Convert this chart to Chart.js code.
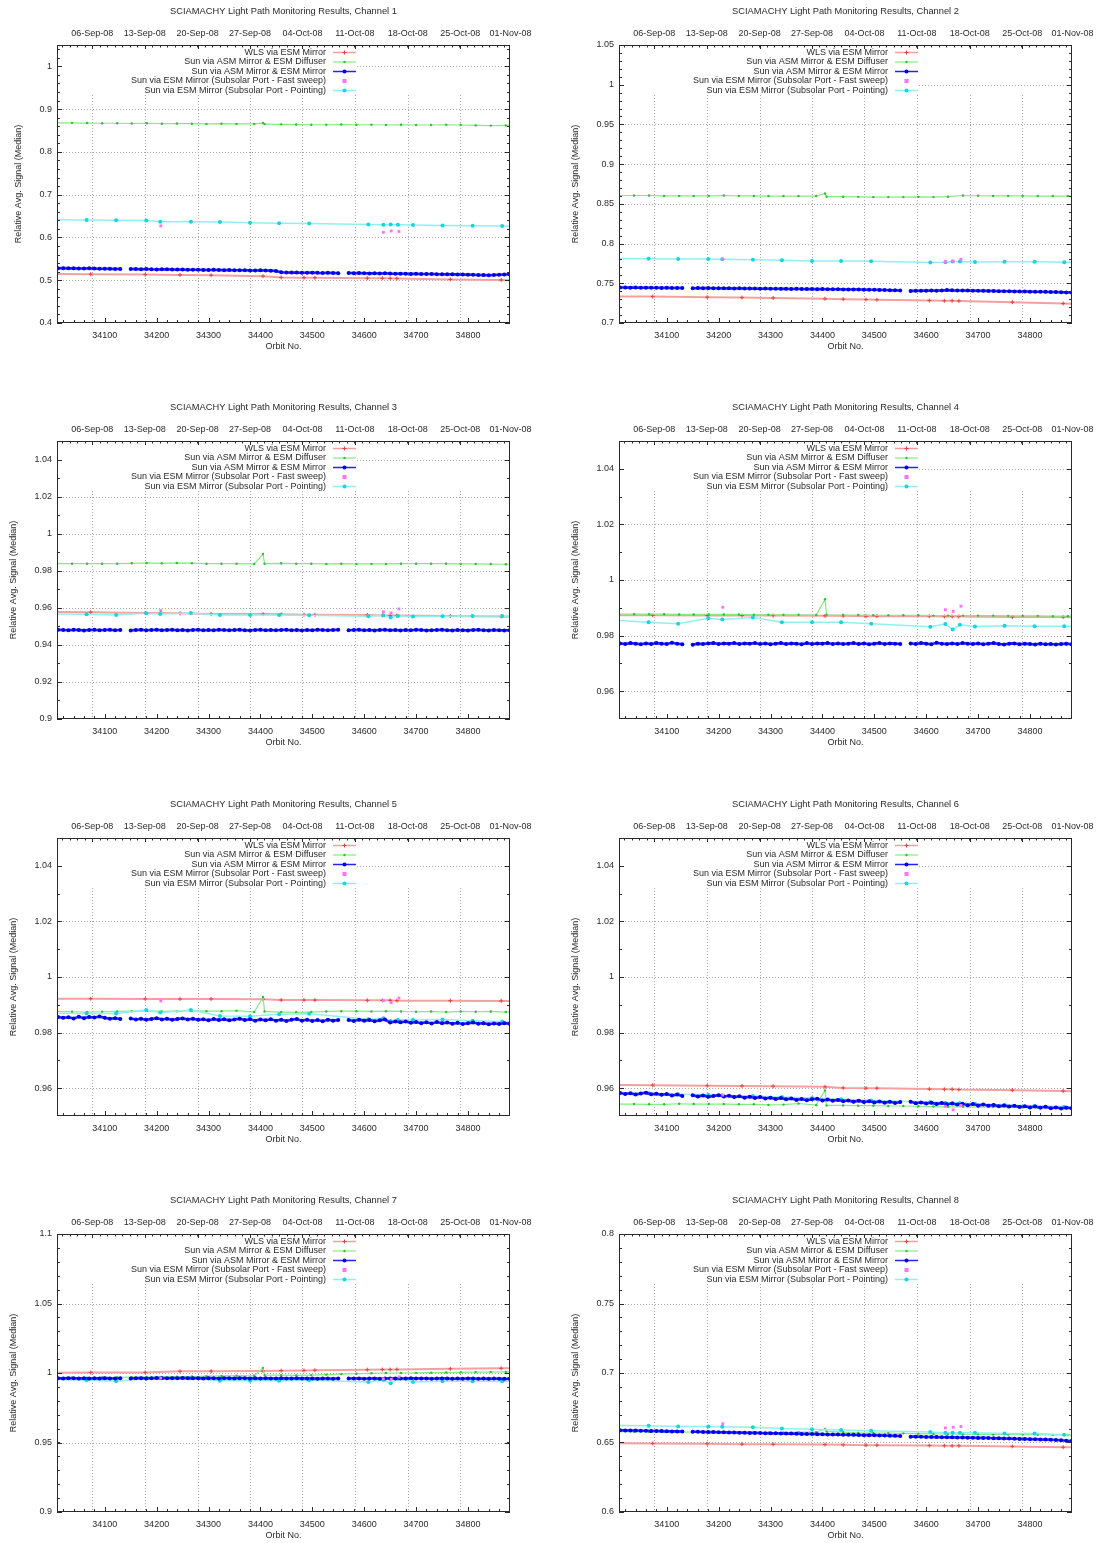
<!DOCTYPE html>
<html>
<head>
<meta charset="utf-8">
<title>SCIAMACHY Light Path Monitoring</title>
<script src="https://cdn.jsdelivr.net/npm/chart.js@4.4.1/dist/chart.umd.min.js"></script>
<style>
  html, body { margin: 0; padding: 0; background: #fff; overflow: hidden; }
  #page { position: relative; width: 1098px; height: 1543px; }
  .panel { position: absolute; width: 549px; height: 396px; }
</style>
</head>
<body>
<div id="page"></div>
<script>
// ---- shared orbit axes ----
const orbitMin = 34008;
const orbitMax = 34881;
const orbitTicks = [34100, 34200, 34300, 34400, 34500, 34600, 34700, 34800];
const weekOrbits = [34076, 34177, 34279, 34380, 34481, 34582, 34684, 34785, 34882];
const weekLabels = ['06-Sep-08', '13-Sep-08', '20-Sep-08', '27-Sep-08', '04-Oct-08', '11-Oct-08', '18-Oct-08', '25-Oct-08', '01-Nov-08'];

// orbits of each measurement type
const wlsOrbits = [34000, 34073, 34178, 34245, 34305, 34405, 34440, 34484, 34505, 34606, 34635, 34650, 34663, 34766, 34864, 34890];
const diffuserOrbits = [34008, 34037, 34066, 34095, 34124, 34152, 34181, 34210, 34239, 34268, 34296, 34325, 34354, 34388, 34405, 34408, 34440,
  34469, 34498, 34527, 34556, 34585, 34614, 34642, 34671, 34700, 34729, 34758, 34786, 34815, 34844, 34873, 34882];
const asmOrbits = [
  34010, 34020, 34030, 34040, 34050, 34060, 34070, 34080, 34090, 34100, 34110,
  34120, 34130, 34140, 34150, 34160, 34170, 34180, 34190, 34200, 34210, 34220,
  34230, 34240, 34250, 34260, 34270, 34280, 34290, 34300, 34310, 34320, 34330,
  34340, 34350, 34360, 34370, 34380, 34390, 34400, 34410, 34420, 34430, 34440,
  34450, 34460, 34470, 34480, 34490, 34500, 34510, 34520, 34530, 34540, 34550,
  34560, 34570, 34580, 34590, 34600, 34610, 34620, 34630, 34640, 34650, 34660,
  34670, 34680, 34690, 34700, 34710, 34720, 34730, 34740, 34750, 34760, 34770,
  34780, 34790, 34800, 34810, 34820, 34830, 34840, 34850, 34860, 34870, 34880
];
const sweepOrbits = [34208, 34637, 34652, 34667];
const pointingOrbits = [34000, 34065, 34122, 34180, 34207, 34266, 34322, 34380, 34436, 34494, 34608, 34637, 34651, 34665, 34694, 34751, 34809, 34866, 34890];

// ---- Channel 1 ----
const ch1Ticks = [0.4, 0.5, 0.6, 0.7, 0.8, 0.9, 1];
const ch1Wls = [0.5145, 0.5142, 0.5132, 0.5125, 0.5118, 0.5095, 0.5065, 0.5060, 0.5058, 0.5048, 0.5046, 0.5044, 0.5042, 0.5018, 0.5005, 0.5000];
const ch1Diffuser = [0.868, 0.868, 0.8675, 0.867, 0.867, 0.8665, 0.867, 0.866, 0.8665, 0.866, 0.8655, 0.866, 0.8655, 0.8655, 0.8675, 0.865, 0.8645,
  0.864, 0.8635, 0.8635, 0.864, 0.8635, 0.8635, 0.863, 0.8635, 0.863, 0.863, 0.8635, 0.863, 0.862, 0.8615, 0.862, 0.862];
const ch1Asm = [
  0.5280, 0.5282, 0.5278, 0.5280, 0.5276, 0.5274, 0.5278, 0.5272, 0.5268, 0.5270, 0.5266,
  0.5262, 0.5265, null, 0.5262, 0.5260, 0.5258, 0.5262, 0.5255, 0.5252, 0.5256, 0.5254,
  0.5250, 0.5248, 0.5251, 0.5246, 0.5244, 0.5246, 0.5242, 0.5240, 0.5243, 0.5238, 0.5236,
  0.5238, 0.5234, 0.5232, 0.5235, 0.5230, 0.5228, 0.5231, 0.5226, 0.5224, 0.5215, 0.5185,
  0.5180, 0.5178, 0.5181, 0.5176, 0.5174, 0.5177, 0.5172, 0.5170, 0.5173, 0.5168, 0.5166,
  null, 0.5168, 0.5165, 0.5167, 0.5162, 0.5160, 0.5163, 0.5158, 0.5162, 0.5155, 0.5152,
  0.5154, 0.5150, 0.5148, 0.5151, 0.5146, 0.5144, 0.5147, 0.5142, 0.5140, 0.5138, 0.5141,
  0.5136, 0.5134, 0.5131, 0.5128, 0.5124, 0.5120, 0.5118, 0.5122, 0.5128, 0.5134, 0.5138
];
const ch1Sweep = [0.627, 0.612, 0.615, 0.614];
const ch1Pointing = [0.6415, 0.641, 0.640, 0.6395, 0.637, 0.637, 0.636, 0.6345, 0.6335, 0.6325, 0.6305, 0.630, 0.6305, 0.630, 0.629, 0.628, 0.6275, 0.6268, 0.626];

// ---- Channel 2 ----
const ch2Ticks = [0.7, 0.75, 0.8, 0.85, 0.9, 0.95, 1, 1.05];
const ch2Wls = [0.7335, 0.7333, 0.7325, 0.7320, 0.7315, 0.7305, 0.7300, 0.7295, 0.7293, 0.7283, 0.7280, 0.7280, 0.7278, 0.7262, 0.7245, 0.7240];
const ch2Diffuser = [0.8605, 0.8605, 0.8605, 0.860, 0.860, 0.860, 0.860, 0.8605, 0.860, 0.860, 0.8598, 0.8598, 0.8598, 0.8598, 0.863, 0.859, 0.859,
  0.8588, 0.8585, 0.8585, 0.8585, 0.8588, 0.8585, 0.859, 0.8605, 0.8602, 0.860, 0.860, 0.860, 0.8598, 0.8598, 0.8598, 0.8598];
const ch2Asm = [
  0.7446, 0.7447, 0.7445, 0.7446, 0.7444, 0.7445, 0.7443, 0.7444, 0.7442, 0.7443, 0.7441,
  0.7442, 0.7440, null, 0.7438, 0.7441, 0.7439, 0.7440, 0.7437, 0.7438, 0.7436, 0.7437,
  0.7435, 0.7436, 0.7434, 0.7435, 0.7433, 0.7432, 0.7433, 0.7431, 0.7432, 0.7430, 0.7431,
  0.7429, 0.7430, 0.7428, 0.7427, 0.7428, 0.7426, 0.7427, 0.7425, 0.7424, 0.7425, 0.7423,
  0.7422, 0.7423, 0.7421, 0.7420, 0.7419, 0.7418, 0.7417, 0.7415, 0.7413, 0.7411, 0.7409,
  null, 0.7404, 0.7405, 0.7406, 0.7407, 0.7408, 0.7407, 0.7409, 0.7414, 0.7411, 0.7410,
  0.7409, 0.7408, 0.7407, 0.7406, 0.7405, 0.7404, 0.7403, 0.7401, 0.7400, 0.7399, 0.7398,
  0.7397, 0.7396, 0.7395, 0.7394, 0.7393, 0.7392, 0.7390, 0.7389, 0.7387, 0.7385, 0.7384
];
const ch2Sweep = [0.7805, 0.7772, 0.7778, 0.7802];
const ch2Pointing = [0.7812, 0.781, 0.7805, 0.7805, 0.7803, 0.7795, 0.779, 0.7782, 0.778, 0.7778, 0.7762, 0.7765, 0.7775, 0.7775, 0.7768, 0.777, 0.777, 0.7765, 0.7765];

// ---- Channel 3 ----
const ch3Ticks = [0.9, 0.92, 0.94, 0.96, 0.98, 1, 1.02, 1.04];
const ch3Wls = [0.9577, 0.9576, 0.9572, 0.9570, 0.9567, 0.9566, 0.9565, 0.9563, 0.9562, 0.9561, 0.9559, 0.9558, 0.9558, 0.9556, 0.9553, 0.9552];
const ch3Diffuser = [0.9838, 0.9838, 0.9838, 0.9838, 0.9838, 0.9840, 0.9842, 0.9840, 0.9842, 0.9841, 0.9838, 0.9838, 0.9838, 0.9837, 0.9890, 0.9838,
  0.9840, 0.9838, 0.9838, 0.9837, 0.9838, 0.9837, 0.9837, 0.9837, 0.9838, 0.9838, 0.9838, 0.9838, 0.9837, 0.9837, 0.9836, 0.9835, 0.9835];
const ch3Asm = [
  0.9481, 0.9480, 0.9479, 0.9481, 0.9480, 0.9478, 0.9480, 0.9481, 0.9479, 0.9480, 0.9481,
  0.9479, 0.9480, null, 0.9478, 0.9480, 0.9481, 0.9479, 0.9480, 0.9481, 0.9479, 0.9480,
  0.9481, 0.9479, 0.9480, 0.9478, 0.9480, 0.9481, 0.9479, 0.9480, 0.9479, 0.9481, 0.9480,
  0.9479, 0.9480, 0.9481, 0.9479, 0.9478, 0.9480, 0.9481, 0.9479, 0.9480, 0.9479, 0.9480,
  0.9481, 0.9479, 0.9480, 0.9478, 0.9480, 0.9479, 0.9481, 0.9480, 0.9479, 0.9480, 0.9481,
  null, 0.9479, 0.9480, 0.9481, 0.9479, 0.9480, 0.9478, 0.9480, 0.9481, 0.9479, 0.9480,
  0.9478, 0.9480, 0.9479, 0.9481, 0.9480, 0.9478, 0.9479, 0.9480, 0.9481, 0.9479, 0.9478,
  0.9480, 0.9479, 0.9478, 0.9480, 0.9481, 0.9479, 0.9478, 0.9480, 0.9479, 0.9478, 0.9479
];
const ch3Sweep = [0.9585, 0.9578, 0.9572, 0.9594];
const ch3Pointing = [0.9567, 0.9565, 0.9561, 0.9571, 0.9566, 0.9572, 0.9561, 0.9561, 0.9561, 0.9560, 0.9555, 0.9560, 0.9548, 0.9556, 0.9553, 0.9555, 0.9556, 0.9556, 0.9556];

// ---- Channel 4 ----
const ch4Ticks = [0.96, 0.98, 1, 1.02, 1.04];
const ch4Wls = [0.9873, 0.9873, 0.9872, 0.9872, 0.9872, 0.9871, 0.9871, 0.9870, 0.9870, 0.9870, 0.9869, 0.9869, 0.9869, 0.9867, 0.9867, 0.9866];
const ch4Diffuser = [0.9877, 0.9877, 0.9877, 0.9877, 0.9876, 0.9876, 0.9876, 0.9876, 0.9876, 0.9875, 0.9875, 0.9875, 0.9875, 0.9874, 0.9931, 0.9874,
  0.9874, 0.9874, 0.9873, 0.9873, 0.9873, 0.9873, 0.9872, 0.9872, 0.9872, 0.9872, 0.9872, 0.9871, 0.9871, 0.9871, 0.9870, 0.9870, 0.9870];
const ch4Asm = [
  0.9772, 0.9770, 0.9773, 0.9771, 0.9769, 0.9772, 0.9770, 0.9773, 0.9771, 0.9770, 0.9774,
  0.9771, 0.9769, null, 0.9767, 0.9771, 0.9770, 0.9772, 0.9773, 0.9770, 0.9772, 0.9771,
  0.9773, 0.9770, 0.9772, 0.9771, 0.9773, 0.9770, 0.9772, 0.9769, 0.9771, 0.9773, 0.9770,
  0.9772, 0.9771, 0.9769, 0.9773, 0.9770, 0.9772, 0.9771, 0.9773, 0.9770, 0.9772, 0.9770,
  0.9771, 0.9773, 0.9770, 0.9772, 0.9769, 0.9771, 0.9773, 0.9770, 0.9772, 0.9771, 0.9770,
  null, 0.9772, 0.9770, 0.9773, 0.9771, 0.9769, 0.9774, 0.9771, 0.9770, 0.9772, 0.9770,
  0.9773, 0.9771, 0.9770, 0.9772, 0.9769, 0.9771, 0.9773, 0.9770, 0.9768, 0.9771, 0.9772,
  0.9769, 0.9771, 0.9770, 0.9768, 0.9771, 0.9769, 0.9770, 0.9768, 0.9770, 0.9771, 0.9769
];
const ch4Sweep = [0.9902, 0.9893, 0.9887, 0.9906];
const ch4Pointing = [0.9855, 0.9848, 0.9843, 0.9862, 0.9858, 0.9865, 0.9848, 0.9848, 0.9848, 0.9843, 0.9832, 0.9842, 0.9822, 0.9839, 0.9833, 0.9835, 0.9834, 0.9834, 0.9834];

// ---- Channel 5 ----
const ch5Ticks = [0.96, 0.98, 1, 1.02, 1.04];
const ch5Wls = [0.9922, 0.9922, 0.9921, 0.9921, 0.9921, 0.9920, 0.9917, 0.9917, 0.9917, 0.9916, 0.9916, 0.9916, 0.9915, 0.9915, 0.9914, 0.9914];
const ch5Diffuser = [0.9876, 0.9875, 0.9874, 0.9875, 0.9876, 0.9877, 0.9878, 0.9876, 0.9877, 0.9879, 0.9877, 0.9877, 0.9879, 0.9874, 0.9928, 0.9876,
  0.9874, 0.9873, 0.9874, 0.9876, 0.9877, 0.9877, 0.9876, 0.9877, 0.9876, 0.9875, 0.9876, 0.9874, 0.9876, 0.9875, 0.9876, 0.9874, 0.9876];
const ch5Asm = [
  0.9856, 0.9853, 0.9855, 0.9851, 0.9857, 0.9852, 0.9856, 0.9854, 0.9858, 0.9853, 0.9850,
  0.9852, 0.9849, null, 0.9851, 0.9847, 0.9850, 0.9846, 0.9849, 0.9852, 0.9847, 0.9850,
  0.9846, 0.9849, 0.9851, 0.9847, 0.9850, 0.9846, 0.9848, 0.9844, 0.9849, 0.9845, 0.9848,
  0.9844, 0.9847, 0.9850, 0.9845, 0.9848, 0.9843, 0.9847, 0.9844, 0.9848, 0.9843, 0.9846,
  0.9842, 0.9846, 0.9849, 0.9843, 0.9846, 0.9842, 0.9845, 0.9841, 0.9846, 0.9843, 0.9845,
  null, 0.9845, 0.9842, 0.9846, 0.9843, 0.9845, 0.9841, 0.9844, 0.9847, 0.9836, 0.9840,
  0.9837, 0.9840, 0.9835, 0.9838, 0.9834, 0.9837, 0.9833, 0.9838, 0.9834, 0.9836, 0.9832,
  0.9835, 0.9831, 0.9834, 0.9836, 0.9832, 0.9834, 0.9830, 0.9833, 0.9831, 0.9834, 0.9832
];
const ch5Sweep = [0.9914, 0.9915, 0.9908, 0.9924];
const ch5Pointing = [0.9870, 0.9869, 0.9869, 0.9881, 0.9872, 0.9881, 0.9860, 0.9859, 0.9866, 0.9868, 0.9848, 0.9852, 0.9842, 0.9846, 0.9846, 0.9847, 0.9843, 0.9840, 0.9839];

// ---- Channel 6 ----
const ch6Ticks = [0.96, 0.98, 1, 1.02, 1.04];
const ch6Wls = [0.9612, 0.9611, 0.9609, 0.9608, 0.9607, 0.9605, 0.9601, 0.9600, 0.9600, 0.9597, 0.9596, 0.9596, 0.9595, 0.9593, 0.9590, 0.9589];
const ch6Diffuser = [0.9543, 0.9543, 0.9542, 0.9542, 0.9544, 0.9543, 0.9543, 0.9543, 0.9542, 0.9542, 0.9540, 0.9541, 0.9545, 0.9539, 0.9592, 0.9538,
  0.9538, 0.9537, 0.9537, 0.9536, 0.9536, 0.9535, 0.9534, 0.9533, 0.9533, 0.9532, 0.9532, 0.9531, 0.9531, 0.9530, 0.9529, 0.9529, 0.9528];
const ch6Asm = [
  0.9583, 0.9579, 0.9582, 0.9577, 0.9581, 0.9584, 0.9578, 0.9580, 0.9576, 0.9579, 0.9574,
  0.9577, 0.9572, null, 0.9575, 0.9570, 0.9574, 0.9569, 0.9572, 0.9575, 0.9570, 0.9573,
  0.9568, 0.9571, 0.9566, 0.9569, 0.9565, 0.9568, 0.9563, 0.9566, 0.9561, 0.9565, 0.9560,
  0.9563, 0.9558, 0.9561, 0.9557, 0.9560, 0.9562, 0.9556, 0.9559, 0.9555, 0.9558, 0.9553,
  0.9556, 0.9551, 0.9555, 0.9550, 0.9553, 0.9549, 0.9552, 0.9548, 0.9551, 0.9547, 0.9550,
  null, 0.9551, 0.9546, 0.9549, 0.9545, 0.9548, 0.9543, 0.9547, 0.9542, 0.9545, 0.9541,
  0.9544, 0.9539, 0.9543, 0.9538, 0.9541, 0.9537, 0.9540, 0.9535, 0.9538, 0.9534, 0.9537,
  0.9532, 0.9535, 0.9531, 0.9534, 0.9530, 0.9533, 0.9528, 0.9531, 0.9527, 0.9530, 0.9528
];
const ch6Sweep = [0.9575, 0.9535, 0.9522, 0.9538];
const ch6Pointing = [0.9585, 0.9582, 0.9578, 0.9576, 0.9574, 0.9572, 0.9568, 0.9565, 0.9560, 0.9556, 0.9550, 0.9548, 0.9546, 0.9547, 0.9544, 0.9540, 0.9537, 0.9533, 0.9532];

// ---- Channel 7 ----
const ch7Ticks = [0.9, 0.95, 1, 1.05, 1.1];
const ch7Wls = [1.0002, 1.0003, 1.0004, 1.0012, 1.0013, 1.0015, 1.0017, 1.0018, 1.0020, 1.0024, 1.0025, 1.0025, 1.0026, 1.0030, 1.0034, 1.0035];
const ch7Diffuser = [0.9966, 0.9967, 0.9967, 0.9968, 0.9969, 0.9970, 0.9971, 0.9972, 0.9974, 0.9975, 0.9977, 0.9979, 0.9981, 0.9980, 1.0037, 0.9985,
  0.9984, 0.9983, 0.9985, 0.9988, 0.9992, 0.9995, 0.9998, 1.0000, 1.0000, 1.0001, 1.0002, 1.0004, 1.0005, 1.0006, 1.0007, 1.0008, 1.0008];
const ch7Asm = [
  0.9962, 0.9961, 0.9963, 0.9962, 0.9961, 0.9962, 0.9960, 0.9962, 0.9961, 0.9963, 0.9961,
  0.9960, 0.9962, null, 0.9961, 0.9962, 0.9963, 0.9961, 0.9962, 0.9964, 0.9963, 0.9962,
  0.9963, 0.9962, 0.9964, 0.9963, 0.9962, 0.9963, 0.9961, 0.9963, 0.9962, 0.9961, 0.9963,
  0.9962, 0.9961, 0.9963, 0.9962, 0.9961, 0.9962, 0.9960, 0.9962, 0.9961, 0.9960, 0.9962,
  0.9961, 0.9960, 0.9962, 0.9961, 0.9960, 0.9961, 0.9959, 0.9961, 0.9960, 0.9959, 0.9961,
  null, 0.9961, 0.9960, 0.9961, 0.9959, 0.9960, 0.9961, 0.9959, 0.9960, 0.9961, 0.9960,
  0.9961, 0.9960, 0.9962, 0.9961, 0.9960, 0.9961, 0.9959, 0.9960, 0.9961, 0.9960, 0.9959,
  0.9960, 0.9959, 0.9961, 0.9960, 0.9959, 0.9960, 0.9958, 0.9960, 0.9959, 0.9958, 0.9959
];
const ch7Sweep = [0.9963, 0.9958, 0.9955, 0.9972];
const ch7Pointing = [0.9955, 0.9948, 0.9940, 0.9960, 0.9962, 0.9962, 0.9945, 0.9945, 0.9945, 0.9947, 0.9936, 0.9950, 0.9926, 0.9958, 0.9936, 0.9940, 0.9940, 0.9940, 0.9940];

// ---- Channel 8 ----
const ch8Ticks = [0.6, 0.65, 0.7, 0.75, 0.8];
const ch8Wls = [0.6494, 0.6493, 0.6491, 0.6488, 0.6487, 0.6485, 0.6483, 0.6481, 0.6481, 0.6478, 0.6477, 0.6476, 0.6476, 0.6472, 0.6466, 0.6465];
const ch8Diffuser = [0.6578, 0.6577, 0.6576, 0.6576, 0.6575, 0.6575, 0.6574, 0.6574, 0.6573, 0.6573, 0.6572, 0.6572, 0.6574, 0.6575, 0.6597, 0.6580,
  0.6575, 0.6570, 0.6568, 0.6568, 0.6566, 0.6564, 0.6562, 0.6561, 0.6560, 0.6559, 0.6558, 0.6558, 0.6557, 0.6556, 0.6555, 0.6554, 0.6553];
const ch8Asm = [
  0.6588, 0.6587, 0.6586, 0.6586, 0.6585, 0.6584, 0.6583, 0.6583, 0.6582, 0.6581, 0.6580,
  0.6580, 0.6579, null, 0.6577, 0.6577, 0.6576, 0.6575, 0.6575, 0.6574, 0.6573, 0.6572,
  0.6572, 0.6571, 0.6570, 0.6569, 0.6569, 0.6568, 0.6567, 0.6566, 0.6566, 0.6565, 0.6564,
  0.6564, 0.6563, 0.6562, 0.6561, 0.6561, 0.6560, 0.6559, 0.6558, 0.6558, 0.6557, 0.6556,
  0.6556, 0.6555, 0.6554, 0.6553, 0.6553, 0.6552, 0.6551, 0.6550, 0.6549, 0.6548, 0.6547,
  null, 0.6542, 0.6542, 0.6541, 0.6540, 0.6540, 0.6539, 0.6538, 0.6538, 0.6537, 0.6536,
  0.6536, 0.6535, 0.6534, 0.6533, 0.6533, 0.6532, 0.6531, 0.6530, 0.6529, 0.6528, 0.6527,
  0.6526, 0.6525, 0.6524, 0.6523, 0.6522, 0.6521, 0.6520, 0.6518, 0.6516, 0.6513, 0.6510
];
const ch8Sweep = [0.6635, 0.6605, 0.661, 0.6615];
const ch8Pointing = [0.6623, 0.662, 0.6615, 0.6615, 0.6613, 0.661, 0.660, 0.6595, 0.659, 0.6585, 0.6575, 0.657, 0.657, 0.657, 0.657, 0.6565, 0.6565, 0.6555, 0.6553];

const channels = [
  { name: 'Channel 1', min: 0.4, max: 1.05, minor: 0.02, ticks: ch1Ticks, wls: ch1Wls, diffuser: ch1Diffuser, asm: ch1Asm, sweep: ch1Sweep, pointing: ch1Pointing },
  { name: 'Channel 2', min: 0.7, max: 1.05, minor: 0.01, ticks: ch2Ticks, wls: ch2Wls, diffuser: ch2Diffuser, asm: ch2Asm, sweep: ch2Sweep, pointing: ch2Pointing },
  { name: 'Channel 3', min: 0.9, max: 1.05, minor: 0.01, ticks: ch3Ticks, wls: ch3Wls, diffuser: ch3Diffuser, asm: ch3Asm, sweep: ch3Sweep, pointing: ch3Pointing },
  { name: 'Channel 4', min: 0.95, max: 1.05, minor: 0.01, ticks: ch4Ticks, wls: ch4Wls, diffuser: ch4Diffuser, asm: ch4Asm, sweep: ch4Sweep, pointing: ch4Pointing },
  { name: 'Channel 5', min: 0.95, max: 1.05, minor: 0.01, ticks: ch5Ticks, wls: ch5Wls, diffuser: ch5Diffuser, asm: ch5Asm, sweep: ch5Sweep, pointing: ch5Pointing },
  { name: 'Channel 6', min: 0.95, max: 1.05, minor: 0.01, ticks: ch6Ticks, wls: ch6Wls, diffuser: ch6Diffuser, asm: ch6Asm, sweep: ch6Sweep, pointing: ch6Pointing },
  { name: 'Channel 7', min: 0.9, max: 1.1, minor: 0.01, ticks: ch7Ticks, wls: ch7Wls, diffuser: ch7Diffuser, asm: ch7Asm, sweep: ch7Sweep, pointing: ch7Pointing },
  { name: 'Channel 8', min: 0.6, max: 0.8, minor: 0.01, ticks: ch8Ticks, wls: ch8Wls, diffuser: ch8Diffuser, asm: ch8Asm, sweep: ch8Sweep, pointing: ch8Pointing }
];

// ---- look of each measurement type (legend order) ----
const seriesStyles = [
  { key: 'wls', orbits: wlsOrbits, label: 'WLS via ESM Mirror', line: '#f5a0a0', point: '#e84040', style: 'cross', radius: 2, width: 2, order: 5 },
  { key: 'diffuser', orbits: diffuserOrbits, label: 'Sun via ASM Mirror & ESM Diffuser', line: '#86ea86', point: '#2cc42c', style: 'circle', radius: 1.2, width: 1.2, order: 4 },
  { key: 'asm', orbits: asmOrbits, label: 'Sun via ASM Mirror & ESM Mirror', line: '#2424f4', point: '#0000ee', style: 'circle', radius: 2, width: 2.6, order: 2 },
  { key: 'sweep', orbits: sweepOrbits, label: 'Sun via ESM Mirror (Subsolar Port - Fast sweep)', line: null, point: '#ff70ff', style: 'rect', radius: 2, width: 0, order: 1 },
  { key: 'pointing', orbits: pointingOrbits, label: 'Sun via ESM Mirror (Subsolar Port - Pointing)', line: '#90f0f0', point: '#14d6de', style: 'circle', radius: 2, width: 1.5, order: 3 }
];

const INK = '#2a2a2a';
const FONT = '9px "Liberation Sans", Arial, sans-serif';
const rowTops = [0, 396, 793, 1189];

function drawMarker(ctx, s, px, py) {
  ctx.fillStyle = s.point;
  ctx.strokeStyle = s.point;
  ctx.lineWidth = 1;
  if (s.style === 'cross') {
    ctx.beginPath();
    ctx.moveTo(px - s.radius, py); ctx.lineTo(px + s.radius, py);
    ctx.moveTo(px, py - s.radius); ctx.lineTo(px, py + s.radius);
    ctx.stroke();
  } else if (s.style === 'rect') {
    ctx.fillRect(px - s.radius, py - s.radius, s.radius * 2, s.radius * 2);
  } else {
    ctx.beginPath();
    ctx.arc(px, py, s.radius, 0, Math.PI * 2);
    ctx.fill();
  }
}

// gnuplot-like frame: dotted grid, inward tics on all sides, key at top left
const gnuplotFrame = {
  id: 'gnuplotFrame',
  beforeDatasetsDraw(chart, args, opts) {
    const { ctx, chartArea: a, scales: { x, y } } = chart;
    ctx.save();
    ctx.strokeStyle = '#a8a8a8';
    ctx.lineWidth = 1;
    ctx.setLineDash([1, 2]);
    opts.yTicks.forEach(v => {
      if (v <= y.min || v >= y.max) return;
      const py = Math.round(y.getPixelForValue(v)) + 0.5;
      const x0 = py < a.top + opts.keyHeight ? a.left + opts.keyWidth : a.left;
      ctx.beginPath(); ctx.moveTo(x0, py); ctx.lineTo(a.right, py); ctx.stroke();
    });
    weekOrbits.forEach(o => {
      if (o <= x.min || o >= x.max) return;
      const px = Math.round(x.getPixelForValue(o)) + 0.5;
      ctx.beginPath(); ctx.moveTo(px, a.top + opts.keyHeight); ctx.lineTo(px, a.bottom); ctx.stroke();
    });
    ctx.restore();
  },
  afterDatasetsDraw(chart, args, opts) {
    const { ctx, chartArea: a, scales: { x, y } } = chart;
    const seg = (x0, y0, x1, y1) => { ctx.beginPath(); ctx.moveTo(x0, y0); ctx.lineTo(x1, y1); ctx.stroke(); };
    ctx.save();
    ctx.setLineDash([]);
    ctx.strokeStyle = INK;
    ctx.lineWidth = 1;
    ctx.strokeRect(a.left + 0.5, a.top + 0.5, a.right - a.left - 1, a.bottom - a.top - 1);

    // y tics, mirrored on the right
    const nMinor = Math.round((y.max - y.min) / opts.minor);
    for (let i = 1; i < nMinor; i++) {
      const py = Math.round(y.getPixelForValue(y.min + i * opts.minor)) + 0.5;
      seg(a.left, py, a.left + 3, py);
      seg(a.right, py, a.right - 3, py);
    }
    opts.yTicks.forEach(v => {
      const py = Math.round(y.getPixelForValue(v)) + 0.5;
      seg(a.left, py, a.left + 5, py);
      seg(a.right, py, a.right - 5, py);
    });

    // orbit tics along the bottom
    for (let o = Math.ceil(x.min / 20) * 20; o < x.max; o += 20) {
      const px = Math.round(x.getPixelForValue(o)) + 0.5;
      seg(px, a.bottom, px, a.bottom - 3);
    }
    orbitTicks.forEach(o => {
      const px = Math.round(x.getPixelForValue(o)) + 0.5;
      seg(px, a.bottom, px, a.bottom - 5);
    });

    // date tics along the top: weeks and days
    const day = (weekOrbits[1] - weekOrbits[0]) / 7;
    for (let o = weekOrbits[0] - 7 * day; o < x.max; o += day) {
      if (o <= x.min) continue;
      const px = Math.round(x.getPixelForValue(o)) + 0.5;
      seg(px, a.top, px, a.top + 2.5);
    }
    weekOrbits.forEach(o => {
      if (o >= x.max) return;
      const px = Math.round(x.getPixelForValue(o)) + 0.5;
      seg(px, a.top, px, a.top + 4);
    });

    // labels
    ctx.fillStyle = INK;
    ctx.font = FONT;
    ctx.textBaseline = 'middle';
    ctx.textAlign = 'right';
    opts.yTicks.forEach(v => ctx.fillText(String(v), a.left - 5, y.getPixelForValue(v)));
    const labelWidth = Math.max(...opts.yTicks.map(v => ctx.measureText(String(v)).width));

    ctx.textAlign = 'center';
    orbitTicks.forEach(o => ctx.fillText(String(o), x.getPixelForValue(o), a.bottom + 13));
    weekOrbits.forEach((o, i) => ctx.fillText(weekLabels[i], x.getPixelForValue(o), a.top - 11));
    const cx = (a.left + a.right) / 2;
    ctx.fillText('Orbit No.', cx, a.bottom + 24);
    ctx.font = '9.3px "Liberation Sans", Arial, sans-serif';
    ctx.fillText('SCIAMACHY Light Path Monitoring Results, ' + opts.title, cx, a.top - 34);
    ctx.font = FONT;

    ctx.save();
    ctx.translate(a.left - 5 - labelWidth - 21, (a.top + a.bottom) / 2);
    ctx.rotate(-Math.PI / 2);
    ctx.fillText('Relative Avg. Signal (Median)', 0, 0);
    ctx.restore();

    // key
    seriesStyles.forEach((s, i) => {
      const ly = a.top + 7.5 + i * 9.5;
      ctx.fillStyle = INK;
      ctx.textAlign = 'right';
      ctx.fillText(s.label, a.left + 269, ly);
      if (s.line) {
        ctx.strokeStyle = s.line;
        ctx.lineWidth = Math.min(s.width, 1.5);
        seg(a.left + 276, ly, a.left + 299, ly);
      }
      drawMarker(ctx, s, a.left + 287.5, ly);
    });
    ctx.restore();
  }
};

function makeDataset(s, values) {
  return {
    label: s.label,
    data: s.orbits.map((o, i) => ({ x: o, y: values[i] })),
    showLine: !!s.line,
    borderColor: s.line || s.point,
    borderWidth: s.width,
    pointStyle: s.style,
    pointRadius: s.radius,
    pointBackgroundColor: s.point,
    pointBorderColor: s.point,
    pointBorderWidth: s.style === 'cross' ? 1 : 0,
    tension: 0,
    spanGaps: false,
    order: s.order,
    clip: 0
  };
}

const page = document.getElementById('page');
channels.forEach((ch, i) => {
  const col = i % 2;
  const holder = document.createElement('div');
  holder.className = 'panel';
  holder.style.left = (col * 549) + 'px';
  holder.style.top = rowTops[Math.floor(i / 2)] + 'px';
  const canvas = document.createElement('canvas');
  canvas.width = 549;
  canvas.height = 396;
  holder.appendChild(canvas);
  page.appendChild(holder);

  new Chart(canvas, {
    type: 'line',
    data: { datasets: seriesStyles.map(s => makeDataset(s, ch[s.key])) },
    options: {
      responsive: false,
      animation: false,
      devicePixelRatio: 1,
      events: [],
      layout: { padding: col === 0 ? { left: 57, right: 39, top: 45, bottom: 73 } : { left: 70, right: 26, top: 45, bottom: 73 } },
      scales: {
        x: { type: 'linear', min: orbitMin, max: orbitMax, display: false },
        y: { type: 'linear', min: ch.min, max: ch.max, display: false }
      },
      plugins: {
        legend: { display: false },
        tooltip: { enabled: false },
        gnuplotFrame: { title: ch.name, yTicks: ch.ticks, minor: ch.minor, keyWidth: 300, keyHeight: 50 }
      }
    },
    plugins: [gnuplotFrame]
  });
});
</script>
</body>
</html>
